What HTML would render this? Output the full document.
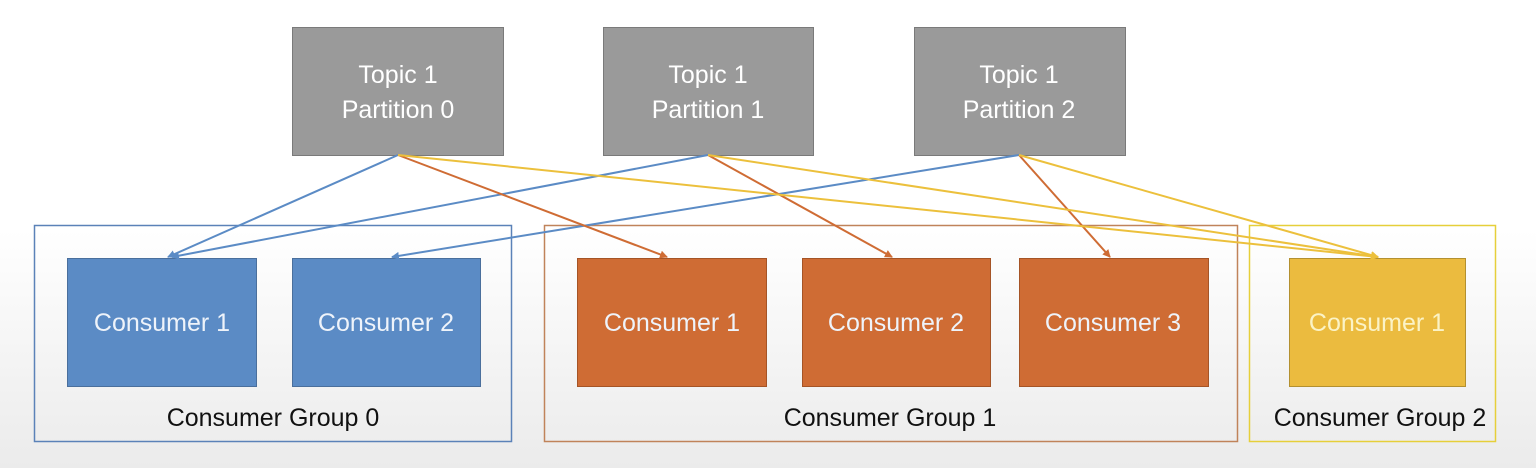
<!DOCTYPE html>
<html><head><style>
body{margin:0;width:1536px;height:468px;overflow:hidden;background:linear-gradient(#fff 0px,#fff 230px,#ebebeb 468px);font-family:"Liberation Sans",sans-serif;}
</style></head><body>
<svg width="1536" height="468" xmlns="http://www.w3.org/2000/svg" style="position:absolute;left:0;top:0">
<defs>
<marker id="ab" markerWidth="8" markerHeight="8" refX="7" refY="4" orient="auto" markerUnits="userSpaceOnUse"><path d="M0,0 L8,4 L0,8z" fill="#5b8bc5"/></marker>
<marker id="ao" markerWidth="8" markerHeight="8" refX="7" refY="4" orient="auto" markerUnits="userSpaceOnUse"><path d="M0,0 L8,4 L0,8z" fill="#cf6c34"/></marker>
<marker id="ay" markerWidth="8" markerHeight="8" refX="7" refY="4" orient="auto" markerUnits="userSpaceOnUse"><path d="M0,0 L8,4 L0,8z" fill="#ecc03c"/></marker>
</defs>
<g fill="#9a9a9a" stroke="#7a7a7a" stroke-width="1">
<rect x="292.5" y="27.5" width="211" height="128"/>
<rect x="603.5" y="27.5" width="210" height="128"/>
<rect x="914.5" y="27.5" width="211" height="128"/>
</g>
<g font-size="25" fill="#fff" text-anchor="middle">
<text x="398" y="83">Topic 1</text><text x="398" y="118">Partition 0</text>
<text x="708" y="83">Topic 1</text><text x="708" y="118">Partition 1</text>
<text x="1019" y="83">Topic 1</text><text x="1019" y="118">Partition 2</text>
</g>
<g fill="none" stroke-width="1.5">
<rect x="34.5" y="225.5" width="477" height="216" stroke="#5b82b8"/>
<rect x="544.5" y="225.5" width="693" height="216" stroke="#c0835a"/>
<rect x="1249.5" y="225.5" width="246" height="216" stroke="#e6cf3a"/>
</g>
<g stroke-width="1">
<rect x="67.5" y="258.5" width="189" height="128" fill="#5b8bc5" stroke="#4a6f9c"/>
<rect x="292.5" y="258.5" width="188" height="128" fill="#5b8bc5" stroke="#4a6f9c"/>
<rect x="577.5" y="258.5" width="189" height="128" fill="#cf6c34" stroke="#a55426"/>
<rect x="802.5" y="258.5" width="188" height="128" fill="#cf6c34" stroke="#a55426"/>
<rect x="1019.5" y="258.5" width="189" height="128" fill="#cf6c34" stroke="#a55426"/>
<rect x="1289.5" y="258.5" width="176" height="128" fill="#ebbb3f" stroke="#b39030"/>
</g>
<g font-size="25" fill="#eef3fa" text-anchor="middle">
<text x="162" y="331">Consumer 1</text>
<text x="386" y="331">Consumer 2</text>
<text x="672" y="331">Consumer 1</text>
<text x="896" y="331">Consumer 2</text>
<text x="1113" y="331">Consumer 3</text>
<text x="1377" y="331" fill="#fbf3c6">Consumer 1</text>
</g>
<g font-size="25" fill="#111" text-anchor="middle">
<text x="273" y="426">Consumer Group 0</text>
<text x="890" y="426">Consumer Group 1</text>
<text x="1380" y="426">Consumer Group 2</text>
</g>
<g stroke-width="2" fill="none">
<line x1="398" y1="155" x2="168" y2="257" stroke="#5b8bc5" marker-end="url(#ab)"/>
<line x1="708" y1="155" x2="172" y2="257" stroke="#5b8bc5" marker-end="url(#ab)"/>
<line x1="1019" y1="155" x2="392" y2="257" stroke="#5b8bc5" marker-end="url(#ab)"/>
<line x1="398" y1="155" x2="667" y2="257" stroke="#cf6c34" marker-end="url(#ao)"/>
<line x1="708" y1="155" x2="892" y2="257" stroke="#cf6c34" marker-end="url(#ao)"/>
<line x1="1019" y1="155" x2="1110" y2="257" stroke="#cf6c34" marker-end="url(#ao)"/>
<line x1="398" y1="155" x2="1378" y2="257" stroke="#ecc03c" marker-end="url(#ay)"/>
<line x1="708" y1="155" x2="1378" y2="257" stroke="#ecc03c" marker-end="url(#ay)"/>
<line x1="1019" y1="155" x2="1378" y2="257" stroke="#ecc03c" marker-end="url(#ay)"/>
</g>
</svg>
</body></html>
